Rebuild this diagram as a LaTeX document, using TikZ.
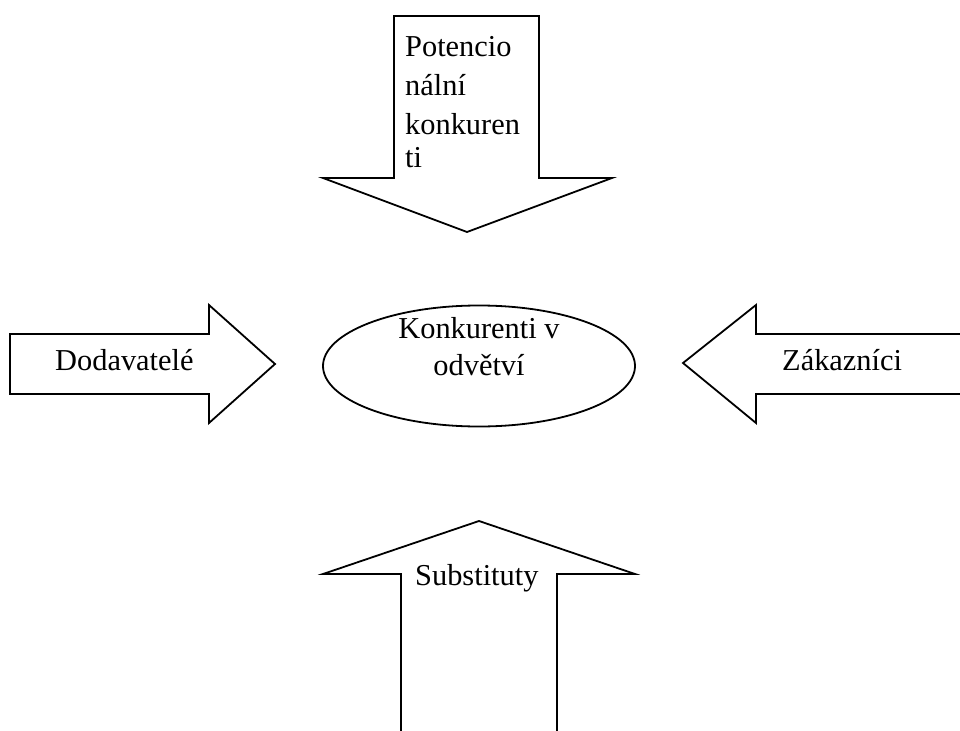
\documentclass[tikz,border=0pt]{standalone}
\usepackage{fontspec}
\setmainfont{Liberation Serif}
\usetikzlibrary{shapes.geometric}
\begin{document}
\begin{tikzpicture}[x=1bp,y=-1bp,
  blockarrow/.style={draw=black,fill=white,line width=1.8bp,line join=miter},
  label/.style={inner sep=0pt,anchor=base west,font=\fontsize{30.5}{36}\selectfont}]
  \useasboundingbox (0,0) rectangle (960,731);
  \clip (0,0) rectangle (960,731);

  % top arrow pointing down
  \draw[blockarrow] (394,16) -- (539,16) -- (539,178) -- (612,178) -- (467,232)
    -- (323,178) -- (394,178) -- cycle;
  % left arrow pointing right
  \draw[blockarrow] (10,334) -- (209,334) -- (209,305) -- (275,364) -- (209,423)
    -- (209,394) -- (10,394) -- cycle;
  % right arrow pointing left (shaft runs off the edge)
  \draw[blockarrow] (970,334) -- (756,334) -- (756,305) -- (683,363) -- (756,423)
    -- (756,394) -- (970,394);
  % bottom arrow pointing up (shaft runs off the edge)
  \draw[blockarrow] (401,745) -- (401,574) -- (323,574) -- (479,521) -- (635,574)
    -- (557,574) -- (557,745);

  % central ellipse
  \node[ellipse,draw,line width=1.8bp,minimum width=312bp,minimum height=121bp,inner sep=0pt]
    (center) at (479,366) {};

  % labels
  \node[label] (pot1) at (405,57) {Potencio};
  \node[label] (pot2) at (405,96) {nální};
  \node[label] (pot3) at (405,135) {konkuren};
  \node[label] (pot4) at (405,168) {ti};
  \node[label] (dod) at (55,370) {Dodavatelé};
  \node[label] (zak) at (782,370) {Zákazníci};
  \node[label,anchor=base] (kon1) at (479,338) {Konkurenti v};
  \node[label,anchor=base] (kon2) at (479,375) {odvětví};
  \node[label] (sub) at (415,585) {Substituty};
\end{tikzpicture}
\end{document}
